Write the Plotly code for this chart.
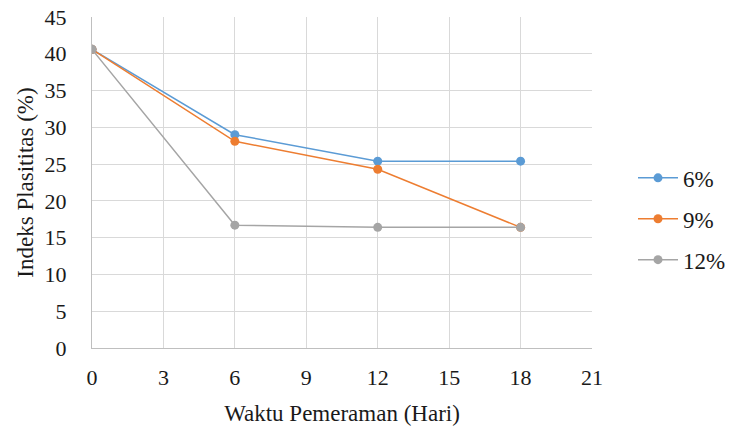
import plotly.graph_objects as go

days = [0, 6, 12, 18]
s6 = [40.6, 29.0, 25.4, 25.4]
s9 = [40.6, 28.1, 24.3, 16.4]
s12 = [40.6, 16.7, 16.4, 16.4]
names = ["6%", "9%", "12%"]
colors = ["#5b9bd5", "#ed7d31", "#a5a5a5"]

fig = go.Figure()
for name, vals, c in zip(names, [s6, s9, s12], colors):
    fig.add_trace(go.Scatter(x=days, y=vals, name=name, mode="lines+markers",
                             legendgroup=name,
                             line=dict(color=c, width=1.5),
                             marker=dict(color=c, size=9)))

serif = "Liberation Serif"
tfont = dict(family=serif, size=22, color="#1a1a1a")
fig.update_layout(
    width=736, height=432,
    margin=dict(l=92, r=144, t=17, b=84, autoexpand=False),
    paper_bgcolor="white", plot_bgcolor="white",
    font=dict(family=serif, size=22, color="#1a1a1a"),
    showlegend=True,
    legend=dict(x=1.082, y=0.39, xanchor="left", yanchor="middle", xref="paper",
                font=dict(family=serif, size=23, color="#1a1a1a"), itemwidth=40,
                tracegroupgap=8, bgcolor="rgba(0,0,0,0)"),
    xaxis=dict(range=[0, 21], tickvals=[0, 3, 6, 9, 12, 15, 18, 21],
               tickfont=tfont, ticklabeloverflow="allow", automargin=False,
               showgrid=True, gridcolor="#d9d9d9", gridwidth=1,
               showline=True, linecolor="#bfbfbf", zeroline=False,
               ticks="", ticklabelstandoff=10,
               title=dict(text="Waktu Pemeraman (Hari)",
                          font=dict(family=serif, size=23, color="#1a1a1a"), standoff=15)),
    yaxis=dict(range=[0, 45], tickvals=list(range(0, 46, 5)),
               tickfont=tfont, ticklabeloverflow="allow", automargin=False,
               showgrid=True, gridcolor="#d9d9d9", gridwidth=1,
               showline=True, linecolor="#bfbfbf", zeroline=False,
               ticks="", ticklabelstandoff=20,
               title=dict(text="Indeks Plasititas (%)",
                          font=dict(family=serif, size=23, color="#1a1a1a"), standoff=4)),
)
fig.write_html("out.html", config={"displayModeBar": False},
               post_script="document.body.style.margin='0';")
